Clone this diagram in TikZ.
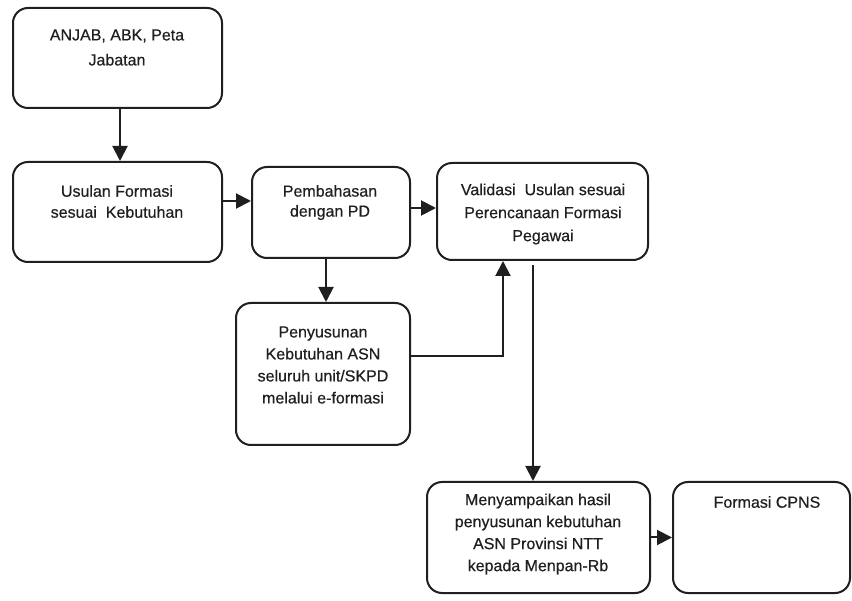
\documentclass[tikz,border=0pt]{standalone}
\usepackage{fontspec}
\setmainfont{Liberation Sans}
\newfontfamily\diagfont{Liberation Sans}[FakeBold=0.5]
\usetikzlibrary{arrows.meta}
\begin{document}
\begin{tikzpicture}[x=1pt,y=-1pt,
  box/.style={draw=black!88, line width=2pt, rounded corners=15pt, inner sep=0pt},
  txt/.style={align=center, text=black!88, font=\diagfont\fontsize{16}{22}\selectfont, inner sep=0pt},
  arr/.style={draw=black!88, line width=2pt, -{Triangle[length=15pt,width=15pt]}}]
\useasboundingbox (0,0) rectangle (852,601);

% boxes
\node[box, minimum width=209pt, minimum height=100pt] (A) at (117.5,58) {};
\node[box, minimum width=209pt, minimum height=100pt] (B) at (117.5,212) {};
\node[box, minimum width=158pt, minimum height=91pt] (C) at (331,212.5) {};
\node[box, minimum width=211pt, minimum height=97pt] (D) at (542.5,211.5) {};
\node[box, minimum width=174pt, minimum height=142pt] (E) at (323,374) {};
\node[box, minimum width=223pt, minimum height=111pt] (F) at (538.5,537.5) {};
\node[box, minimum width=177pt, minimum height=111pt] (G) at (761.5,537.5) {};

% texts
\node[txt, font=\diagfont\fontsize{16}{25}\selectfont] (tA) at (117,47.5) {ANJAB, ABK, Peta\\Jabatan};
\node[txt, font=\diagfont\fontsize{16}{21}\selectfont] (tB) at (117,201.5) {Usulan Formasi\\sesuai\ \ Kebutuhan};
\node[txt, font=\diagfont\fontsize{16}{20}\selectfont] (tC) at (330,202.5) {Pembahasan\\dengan PD};
\node[txt, font=\diagfont\fontsize{16}{23}\selectfont] (tD) at (543,214) {Validasi\ \ Usulan sesuai\\Perencanaan Formasi\\Pegawai};
\node[txt] (tE) at (323,365) {Penyusunan\\Kebutuhan ASN\\seluruh unit/SKPD\\melalui e-formasi};
\node[txt] (tF) at (538,534) {Menyampaikan hasil\\penyusunan kebutuhan\\ASN Provinsi NTT\\kepada Menpan-Rb};
\node[txt] (tG) at (767,502) {Formasi CPNS};

% connectors
\draw[arr] ([xshift=2.5pt]A.south) -- ([xshift=2.5pt]B.north);
\draw[arr] ([yshift=11pt]B.east) -- ([yshift=11pt]B.east -| C.west);
\draw[arr] ([yshift=4.5pt]C.east) -- ([yshift=4.5pt]C.east -| D.west);
\draw[arr] ([xshift=-5pt]C.south) -- ([xshift=-5pt]C.south |- E.north);
\coordinate (eout) at ([yshift=18pt]E.east);
\coordinate (din) at ([xshift=-39.5pt]D.south);
\draw[arr] (eout) -- (eout -| din) -- (din);
\draw[arr, shorten <=4pt] ([xshift=-9.5pt]D.south) -- ([xshift=-9.5pt]D.south |- F.north);
\draw[arr] (F.east) -- (G.west);
\end{tikzpicture}
\end{document}
